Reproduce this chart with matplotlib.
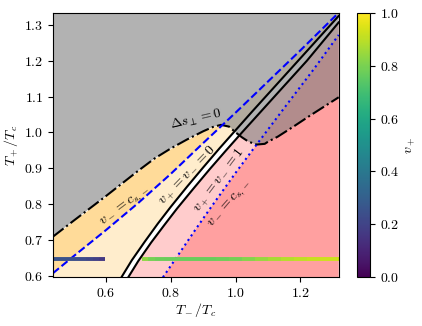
import numpy as np
import matplotlib
matplotlib.use("Agg")
import matplotlib.pyplot as plt
from matplotlib.collections import LineCollection
from matplotlib.colors import Normalize
from matplotlib.cm import ScalarMappable

plt.rcParams['font.family'] = 'serif'
plt.rcParams['font.serif'] = ['cmr10']
plt.rcParams['mathtext.fontset'] = 'cm'
plt.rcParams['axes.formatter.use_mathtext'] = True
plt.rcParams['font.size'] = 10

# ---- data ----
xlim = (0.437, 1.318)
ylim = (0.5955, 1.334)

# Delta s_perp = 0 (dash-dot)
ds_x = [0.437, 0.50, 0.60, 0.70, 0.75, 0.80, 0.85, 0.90, 0.93, 0.955, 0.98, 1.00,
        1.02, 1.04, 1.065, 1.09, 1.10, 1.13, 1.18, 1.23, 1.318]
ds_y = [0.709, 0.753, 0.822, 0.893, 0.927, 0.955, 0.980, 1.003, 1.015, 1.021, 1.016, 1.000,
        0.986, 0.974, 0.966, 0.968, 0.974, 0.988, 1.017, 1.047, 1.098]

# v- = c_s,- (dashed)
da_x = [0.437, 0.50, 0.60, 0.70, 0.80, 0.90, 1.00, 1.10, 1.20, 1.318]
da_y = [0.607, 0.654, 0.727, 0.803, 0.884, 0.970, 1.055, 1.142, 1.229, 1.334]

# v+ = v- = 0 (left solid)
b0_x = [0.648, 0.68, 0.72, 0.76, 0.80, 0.85, 0.90, 0.95, 1.00, 1.05, 1.10, 1.20, 1.318]
b0_y = [0.5955, 0.643, 0.695, 0.745, 0.792, 0.848, 0.902, 0.955, 1.006, 1.057, 1.107, 1.207, 1.325]

# v+ = v- = 1 (right solid)
b1_x = [0.669, 0.70, 0.74, 0.78, 0.82, 0.87, 0.92, 0.97, 1.02, 1.07, 1.12, 1.22, 1.318]
b1_y = [0.5955, 0.641, 0.693, 0.741, 0.788, 0.843, 0.897, 0.949, 1.000, 1.050, 1.100, 1.200, 1.307]

# v- = c_s,- (dotted)
do_x = [0.776, 0.83, 0.875, 0.925, 1.00, 1.05, 1.10, 1.16, 1.24, 1.318]
do_y = [0.5955, 0.667, 0.727, 0.792, 0.887, 0.948, 1.008, 1.080, 1.175, 1.272]

# horizontal track coloured by v+
track_y = 0.646
trackL_x = [0.437, 0.46, 0.48, 0.50, 0.52, 0.54, 0.56, 0.58, 0.597]
trackL_v = [0.26, 0.255, 0.25, 0.245, 0.235, 0.22, 0.20, 0.18, 0.15]
trackR_x = [0.71, 0.73, 0.75, 0.78, 0.82, 0.86, 0.90, 0.94, 0.98, 1.02, 1.06,
            1.10, 1.14, 1.18, 1.22, 1.26, 1.318]
trackR_v = [0.86, 0.80, 0.78, 0.77, 0.77, 0.77, 0.77, 0.775, 0.78, 0.80, 0.83,
            0.86, 0.88, 0.90, 0.91, 0.92, 0.93]

# ---- figure ----
fig = plt.figure(figsize=(4.22, 3.26), dpi=100)
ax = fig.add_axes([53/422, 1-277.3/326, (338.7-53)/422, (277.3-12.7)/326])
cax = fig.add_axes([356.7/422, 1-277.3/326, 13.6/422, (277.3-12.7)/326])

xg = np.linspace(xlim[0], xlim[1], 3000)
low = 0.3
ds = np.interp(xg, ds_x, ds_y)
da = np.interp(xg, da_x, da_y)
b0 = np.interp(xg, b0_x, b0_y, left=low)
b1 = np.interp(xg, b1_x, b1_y, left=low)
do = np.interp(xg, do_x, do_y, left=low)

orange = '#ffdb99'
lorange = '#ffedcc'
lpink = '#ffcccc'
pink = '#ffa0a0'

ax.fill_between(xg, da, ds, where=ds > da, color=orange, lw=0, interpolate=True)
ax.fill_between(xg, b0, da, where=da > b0, color=lorange, lw=0, interpolate=True)
ax.fill_between(xg, do, b1, where=b1 > do, color=lpink, lw=0, interpolate=True)
ax.fill_between(xg, low, do, color=pink, lw=0)
ax.fill_between(xg, ds, 2.0, color='gray', alpha=0.6, lw=0)

ax.plot(ds_x, ds_y, color='k', ls='-.', lw=1.5)
ax.plot(da_x, da_y, color='b', ls='--', lw=1.5)
ax.plot(b0_x, b0_y, color='k', lw=1.5)
ax.plot(b1_x, b1_y, color='k', lw=1.5)
ax.plot(do_x, do_y, color='b', ls=':', lw=1.5)

cmap = plt.get_cmap('viridis')
norm = Normalize(0, 1)
for tx, tv in ((trackL_x, trackL_v), (trackR_x, trackR_v)):
    pts = np.column_stack([tx, [track_y] * len(tx)])
    segs = np.stack([pts[:-1], pts[1:]], axis=1)
    cols = [(a + b) / 2 for a, b in zip(tv[:-1], tv[1:])]
    lc = LineCollection(segs, cmap=cmap, norm=norm, lw=2.8, capstyle='butt')
    lc.set_array(np.array(cols))
    ax.add_collection(lc)

kw = dict(ha='center', va='center', rotation_mode='anchor', fontsize=10)
ax.text(0.878, 1.036, r'$\Delta s_\perp = 0$', rotation=13, **kw)
ax.text(0.662, 0.792, r'$v_- = c_{s,-}$', rotation=37, **kw)
ax.text(0.854, 0.879, r'$v_+ = v_- = 0$', rotation=46, **kw)
ax.text(0.950, 0.866, r'$v_+ = v_- = 1$', rotation=53, **kw)
ax.text(0.984, 0.800, r'$v_- = c_{s,-}$', rotation=49, **kw)

ax.set_xlim(*xlim)
ax.set_ylim(*ylim)
ax.set_xticks([0.6, 0.8, 1.0, 1.2])
ax.set_yticks([0.6, 0.7, 0.8, 0.9, 1.0, 1.1, 1.2, 1.3])
ax.set_xlabel(r'$T_-/T_c$', labelpad=1)
ax.set_ylabel(r'$T_+/T_c$', labelpad=2)

sm = ScalarMappable(norm=norm, cmap=cmap)
cb = fig.colorbar(sm, cax=cax)
cb.set_ticks([0.0, 0.2, 0.4, 0.6, 0.8, 1.0])
cb.set_label(r'$v_+$')

fig.savefig('out.png', dpi=100)
